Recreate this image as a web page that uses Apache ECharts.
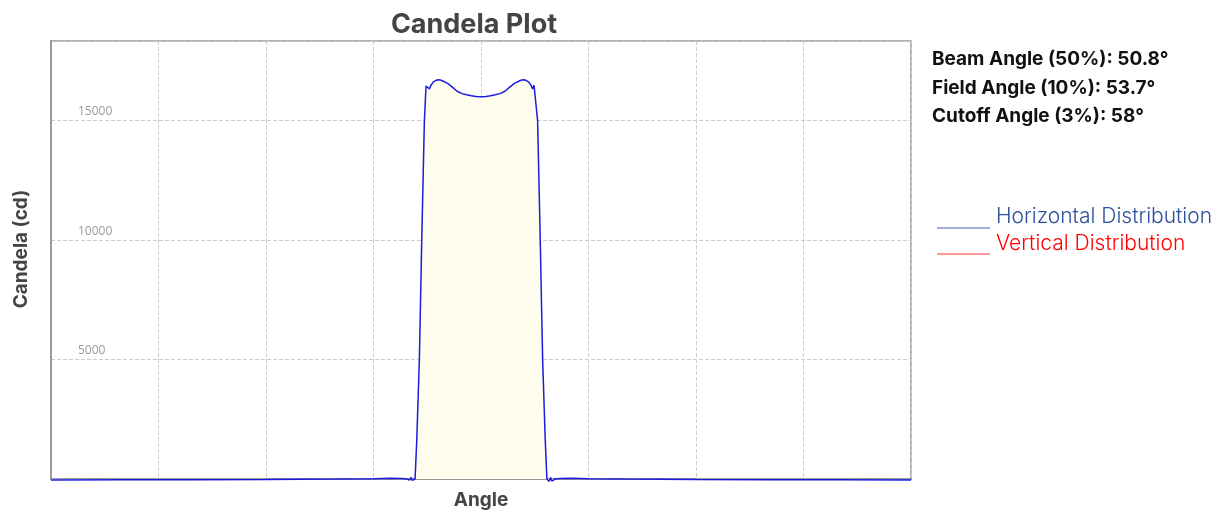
<!DOCTYPE html>
<html><head><meta charset="utf-8">
<script src="https://cdn.jsdelivr.net/npm/echarts@6/dist/echarts.min.js"></script>
<style>html,body{margin:0;padding:0;background:#fff}#c{width:1220px;height:515px}</style>
</head><body><div id="c"></div>
<script>
const angles = [-180,-150,-120,-90,-60,-45,-38,-33,-31,-30,-29.6,-29.2,-28.8,-28.4,-28,-27.6,-26.9,-25.8,-24.8,-23.7,-23.0,-22.7,-22.2,-21.6,-21,-20,-19,-18,-17,-16,-14,-12,-10,-8,-6,-4,-2,0,
  2,4,6,8,10,12,14,16,17,18,19,20,21,21.6,22.2,22.7,23.0,23.7,24.8,25.8,26.9,27.6,28,28.4,28.8,29.2,29.6,30,31,33,38,45,60,90,120,150,180];
const horizontal = [-40,-35,-30,-20,0,15,30,25,0,-40,-90,60,-60,-100,-60,0,1600,5000,10000,15000,16450,16520,16480,16330,16470,16610,16680,16710,16700,16660,16560,16400,16230,16130,16080,16040,16010,16000,
  16010,16040,16080,16130,16230,16400,16560,16660,16700,16710,16680,16610,16470,16330,16480,16520,16450,15000,10000,5000,1600,0,-60,-100,-60,60,-90,-40,0,25,30,15,0,-20,-30,-35,-40];
const vertical = [];
const yTicks = [0,5000,10000,15000];
const infoLines = ['Beam Angle (50%): 50.8°','Field Angle (10%): 53.7°','Cutoff Angle (3%): 58°'];
const legendNames = ['Horizontal Distribution','Vertical Distribution'];

const chart = echarts.init(document.getElementById('c'));
const font = 'Inter, Open Sans, sans-serif';
chart.setOption({
  animation:false,
  title:{text:'Candela Plot',left:469,top:6,textAlign:'center',textStyle:{fontSize:27,fontWeight:'bold',color:'#444',fontFamily:font}},
  grid:{left:51,right:309,top:41,bottom:34,show:true,borderColor:'#999',borderWidth:1.5},
  xAxis:{type:'value',min:-180,max:180,interval:45,name:'Angle',nameLocation:'middle',nameGap:12,
    nameTextStyle:{fontSize:19,fontWeight:'bold',color:'#444',fontFamily:font},
    axisLabel:{show:false},axisTick:{show:false},
    axisLine:{show:true,onZero:false,lineStyle:{color:'#999',width:2}},
    splitLine:{show:true,lineStyle:{type:'dashed',color:'#ccc'}}},
  yAxis:{type:'value',min:0,max:18333.3,interval:5000,name:'Candela (cd)',nameLocation:'middle',nameGap:20,
    nameTextStyle:{fontSize:19,fontWeight:'bold',color:'#444',fontFamily:font,padding:[0,0,0,22]},
    axisLabel:{inside:true,margin:27,verticalAlign:'bottom',padding:[0,0,3,0],color:'#999',fontSize:12,fontFamily:'Open Sans, sans-serif',
      formatter:v=>(yTicks.includes(v)&&v>0)?String(v):''},
    axisTick:{show:false},
    axisLine:{show:true,onZero:false,lineStyle:{color:'#999',width:2}},
    splitLine:{show:true,lineStyle:{type:'dashed',color:'#ccc'}}},
  series:[
    {type:'line',name:legendNames[0],data:angles.map((a,i)=>[a,horizontal[i]]),showSymbol:false,symbol:'none',clip:false,
      lineStyle:{color:'#1c1ce0',width:1.5},itemStyle:{color:'#1c1ce0'},areaStyle:{color:'#fffdee',opacity:1}},
    {type:'line',name:legendNames[1],data:vertical,showSymbol:false,symbol:'none',lineStyle:{color:'#ff0000',width:1.5}}
  ],
  graphic:[
    ...infoLines.map((t,i)=>({type:'text',left:932,top:50+i*28.5,style:{text:t,font:'bold 19px '+font,fill:'#111'}})),
    {type:'line',shape:{x1:937,y1:228,x2:990,y2:228},style:{stroke:'#3a62b0',lineWidth:1}},
    {type:'text',left:996,top:206,style:{text:legendNames[0],font:'300 21px '+font,fill:'#2c4f9b'}},
    {type:'line',shape:{x1:937,y1:254,x2:990,y2:254},style:{stroke:'#ff3333',lineWidth:1}},
    {type:'text',left:996,top:233,style:{text:legendNames[1],font:'300 21px '+font,fill:'#ff0000'}}
  ]
});
</script></body></html>
